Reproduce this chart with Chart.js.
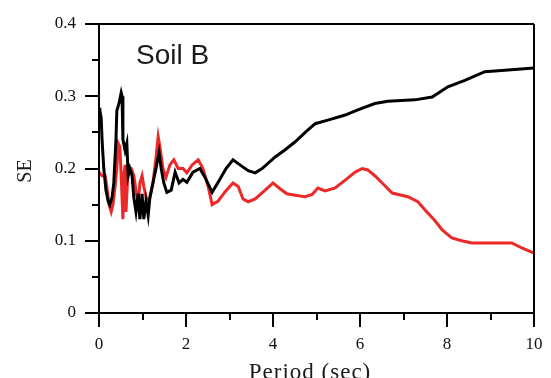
<!DOCTYPE html>
<html>
<head>
<meta charset="utf-8">
<script src="https://cdn.jsdelivr.net/npm/chart.js@4/dist/chart.umd.min.js"></script>
<style>
  html, body { margin: 0; padding: 0; background: #fff; }
  #wrap { width: 551px; height: 378px; }
</style>
</head>
<body>
<div id="wrap"><canvas id="myChart" width="551" height="378"></canvas></div>
<script>
// Soil B - black curve (period in sec, SE)
const periodBlack = [0, 0.02, 0.05, 0.07, 0.11, 0.16, 0.21, 0.25, 0.30, 0.34, 0.39, 0.41, 0.46, 0.51, 0.53, 0.55,
  0.60, 0.64, 0.67, 0.71, 0.76, 0.80, 0.85, 0.90, 0.94, 0.99, 1.03, 1.08, 1.13, 1.17, 1.24, 1.31, 1.38, 1.43,
  1.49, 1.56, 1.66, 1.75, 1.84, 1.93, 2.02, 2.16, 2.32, 2.46, 2.60, 2.78, 2.92, 3.08, 3.24, 3.43, 3.59, 3.75,
  4.05, 4.28, 4.51, 4.74, 4.97, 5.26, 5.66, 5.95, 6.34, 6.64, 7.26, 7.66, 8.02, 8.41, 8.87, 9.33, 10.0];
const seBlack = [0.284, 0.28, 0.27, 0.24, 0.20, 0.17, 0.155, 0.15, 0.16, 0.18, 0.24, 0.28, 0.29, 0.305, 0.30, 0.24,
  0.225, 0.235, 0.19, 0.20, 0.19, 0.16, 0.14, 0.165, 0.13, 0.165, 0.13, 0.155, 0.135, 0.16, 0.18, 0.20, 0.222, 0.20,
  0.18, 0.167, 0.17, 0.195, 0.18, 0.185, 0.181, 0.195, 0.20, 0.185, 0.167, 0.185, 0.20, 0.212, 0.205, 0.197, 0.194, 0.20,
  0.216, 0.226, 0.237, 0.25, 0.262, 0.267, 0.274, 0.281, 0.29, 0.293, 0.295, 0.299, 0.313, 0.322, 0.334, 0.336, 0.339];

// Soil B - red curve
const periodRed = [0, 0.07, 0.14, 0.18, 0.23, 0.28, 0.32, 0.37, 0.41, 0.44, 0.48, 0.51, 0.55, 0.57, 0.60, 0.62,
  0.67, 0.74, 0.80, 0.85, 0.90, 0.94, 0.99, 1.03, 1.10, 1.17, 1.24, 1.31, 1.36, 1.40, 1.47, 1.54, 1.63, 1.72,
  1.82, 1.93, 2.02, 2.14, 2.28, 2.39, 2.51, 2.60, 2.74, 2.90, 3.08, 3.20, 3.31, 3.43, 3.59, 3.82, 4.00, 4.16,
  4.32, 4.51, 4.74, 4.90, 5.03, 5.20, 5.43, 5.66, 5.89, 6.05, 6.18, 6.34, 6.51, 6.74, 7.10, 7.33, 7.49, 7.72,
  7.89, 8.11, 8.34, 8.57, 9.49, 9.72, 10.0];
const seRed = [0.195, 0.19, 0.19, 0.175, 0.15, 0.14, 0.15, 0.175, 0.20, 0.235, 0.23, 0.19, 0.13, 0.19, 0.205, 0.14,
  0.20, 0.20, 0.19, 0.17, 0.15, 0.18, 0.19, 0.175, 0.155, 0.16, 0.18, 0.215, 0.244, 0.23, 0.20, 0.188, 0.205, 0.212,
  0.20, 0.20, 0.194, 0.205, 0.212, 0.20, 0.175, 0.15, 0.155, 0.168, 0.18, 0.175, 0.158, 0.154, 0.158, 0.17, 0.18, 0.172,
  0.165, 0.163, 0.161, 0.164, 0.173, 0.169, 0.173, 0.184, 0.195, 0.20, 0.198, 0.19, 0.18, 0.166, 0.161, 0.154, 0.143, 0.128,
  0.115, 0.104, 0.10, 0.097, 0.097, 0.09, 0.083];

const xTicks = [0, 2, 4, 6, 8, 10];
const yTicks = [0, 0.1, 0.2, 0.3, 0.4];
const xMinor = [1, 3, 5, 7, 9];
const yMinor = [0.05, 0.15, 0.25, 0.35];

const toPoints = (xs, ys) => xs.map((x, i) => ({ x: x, y: ys[i] }));

// no extra room for label overflow, the layout padding sets the box
function fixSize(s, w, h) {
    if (w) s.width = w;
    if (h) s.height = h;
    s.paddingTop = 0; s.paddingBottom = 0; s.paddingLeft = 0; s.paddingRight = 0;
}

// frame, tick marks and texts
const framePlugin = {
    id: 'frame',
    afterDraw(chart) {
        const ctx = chart.ctx;
        const a = chart.chartArea;
        const xs = chart.scales.x;
        const ys = chart.scales.y;
        ctx.save();
        ctx.strokeStyle = '#000';
        ctx.lineWidth = 2;
        ctx.beginPath();
        // box
        ctx.moveTo(a.left - 14, a.top); ctx.lineTo(a.right, a.top);
        ctx.moveTo(a.right, a.top); ctx.lineTo(a.right, a.bottom);
        ctx.moveTo(a.left, a.top); ctx.lineTo(a.left, a.bottom);
        ctx.moveTo(a.left - 14, a.bottom); ctx.lineTo(a.right, a.bottom);
        // major ticks
        xTicks.forEach(v => { const px = Math.round(xs.getPixelForValue(v)); ctx.moveTo(px, a.bottom); ctx.lineTo(px, a.bottom + 14); });
        yTicks.forEach(v => { const py = Math.round(ys.getPixelForValue(v)); ctx.moveTo(a.left - 14, py); ctx.lineTo(a.left, py); });
        // minor ticks
        xMinor.forEach(v => { const px = Math.round(xs.getPixelForValue(v)); ctx.moveTo(px, a.bottom); ctx.lineTo(px, a.bottom + 7); });
        yMinor.forEach(v => { const py = Math.round(ys.getPixelForValue(v)); ctx.moveTo(a.left - 7, py); ctx.lineTo(a.left, py); });
        ctx.stroke();

        // texts
        ctx.fillStyle = '#1a1a1a';
        ctx.font = '28px "Liberation Sans", Arial, sans-serif';
        ctx.textAlign = 'left';
        ctx.textBaseline = 'alphabetic';
        ctx.fillText('Soil B', 136, 64);

        ctx.font = '23px "Liberation Serif", "Times New Roman", serif';
        ctx.textAlign = 'center';
        ctx.letterSpacing = '1px';
        ctx.fillText('Period (sec)', 310, 379);
        ctx.letterSpacing = '0px';

        ctx.translate(31, 171);
        ctx.rotate(-Math.PI / 2);
        ctx.font = '20px "Liberation Serif", "Times New Roman", serif';
        ctx.fillText('SE', 0, 0);
        ctx.restore();
    }
};

const ctx = document.getElementById('myChart').getContext('2d');
const myChart = new Chart(ctx, {
    type: 'line',
    data: {
        datasets: [{
            label: 'black',
            data: toPoints(periodBlack, seBlack),
            borderColor: '#000000',
            borderWidth: 3,
            pointRadius: 0,
            tension: 0,
            fill: false
        }, {
            label: 'red',
            data: toPoints(periodRed, seRed),
            borderColor: 'rgb(236, 40, 40)',
            borderWidth: 3,
            pointRadius: 0,
            tension: 0,
            fill: false
        }]
    },
    options: {
        responsive: false,
        animation: false,
        layout: { padding: { left: 0, right: 17, top: 24, bottom: 0 } },
        plugins: { legend: { display: false }, tooltip: { enabled: false } },
        scales: {
            x: {
                type: 'linear',
                min: 0, max: 10,
                afterFit: s => fixSize(s, 0, 65),
                afterBuildTicks: s => { s.ticks = xTicks.map(v => ({ value: v })); },
                grid: { display: true, drawOnChartArea: false, drawTicks: false },
                border: { display: false },
                ticks: {
                    color: '#111',
                    padding: 21,
                    font: { family: '"Liberation Serif", "Times New Roman", serif', size: 17 }
                }
            },
            y: {
                min: 0, max: 0.4,
                afterFit: s => fixSize(s, 99, 0),
                afterBuildTicks: s => { s.ticks = yTicks.map(v => ({ value: v })); },
                grid: { display: true, drawOnChartArea: false, drawTicks: false },
                border: { display: false },
                ticks: {
                    color: '#111',
                    padding: 23,
                    font: { family: '"Liberation Serif", "Times New Roman", serif', size: 17 }
                }
            }
        }
    },
    plugins: [framePlugin]
});
</script>
</body>
</html>
